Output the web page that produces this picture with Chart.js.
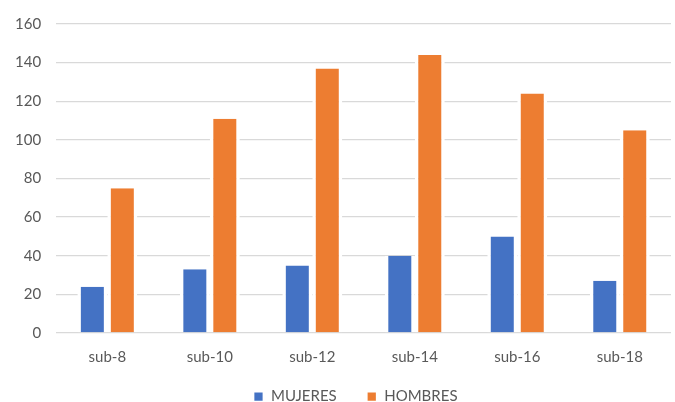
<!DOCTYPE html>
<html>
<head>
<meta charset="utf-8">
<script src="https://cdn.jsdelivr.net/npm/chart.js@4/dist/chart.umd.min.js"></script>
<style>
  html, body { margin: 0; padding: 0; background: #fff; }
  #wrap { width: 675px; height: 402px; }
</style>
</head>
<body>
<div id="wrap"><canvas id="chart"></canvas></div>
<script>
const categories = ['sub-8', 'sub-10', 'sub-12', 'sub-14', 'sub-16', 'sub-18'];
const mujeres = [24, 33, 35, 40, 50, 27];
const hombres = [75, 111, 137, 144, 124, 105];
const yTicks = [0, 20, 40, 60, 80, 100, 120, 140, 160];

// legend padding also sets the gap between items; keep the gap wide but the box short,
// then draw it a bit higher and further right (Excel centres it under the plot)
const shortLegend = {
    id: 'shortLegend',
    afterInit(chart) {
        const legend = chart.legend;
        const origFit = legend.fit;
        const origDraw = legend.draw;
        legend.fit = function() {
            origFit.call(this);
            this.height = 34;
        };
        legend.draw = function() {
            const dx = 20, dy = -9;
            const box = { left: this.left, right: this.right, top: this.top, bottom: this.bottom };
            this.left += dx; this.right += dx;
            this.top += dy;
            this.bottom = this.chart.height;
            origDraw.call(this);
            Object.assign(this, box);
        };
    }
};

const ctx = document.getElementById('chart').getContext('2d');
new Chart(ctx, {
    type: 'bar',
    data: {
        labels: categories,
        datasets: [{
            label: 'MUJERES',
            data: mujeres,
            backgroundColor: '#4472c4',
            borderColor: '#ffffff',
            borderWidth: { left: 3.5, right: 3.5, top: 0, bottom: 0 },
            borderSkipped: false
        }, {
            label: 'HOMBRES',
            data: hombres,
            backgroundColor: '#ed7d31',
            borderColor: '#ffffff',
            borderWidth: { left: 3.5, right: 3.5, top: 0, bottom: 0 },
            borderSkipped: false
        }]
    },
    plugins: [shortLegend],
    options: {
        responsive: true,
        maintainAspectRatio: false,
        animation: false,
        layout: { padding: { top: 10, right: 4, left: 0, bottom: 0 } },
        datasets: {
            bar: { categoryPercentage: 0.585, barPercentage: 1.0 }
        },
        scales: {
            x: {
                grid: { display: false, drawTicks: false },
                border: { display: false },
                afterFit: scale => { scale.height = 35; },
                ticks: { color: '#595959', font: { family: 'Lato', size: 15 }, padding: 15 }
            },
            y: {
                min: 0,
                max: 160,
                afterBuildTicks: axis => { axis.ticks = yTicks.map(v => ({ value: v })); },
                grid: { color: '#d9d9d9', lineWidth: 1.3, drawTicks: false },
                border: { display: false },
                ticks: { color: '#595959', font: { family: 'Lato', size: 15 }, padding: 15 }
            }
        },
        plugins: {
            legend: {
                position: 'bottom',
                labels: {
                    color: '#595959',
                    font: { family: 'Lato', size: 15 },
                    boxWidth: 10,
                    boxHeight: 10,
                    padding: 30
                }
            },
            tooltip: { enabled: false }
        }
    }
});
</script>
</body>
</html>
